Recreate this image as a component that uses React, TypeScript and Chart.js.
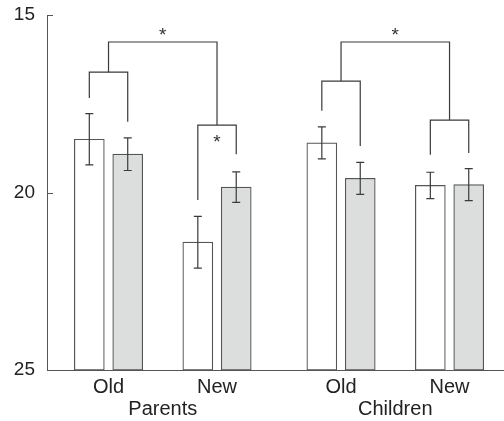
import React, { useEffect, useRef } from 'react';
import { Chart, registerables } from 'chart.js';

Chart.register(...registerables);

// ---- data ----
const conditionLabels = ['Old', 'New', 'Old', 'New'];
const groupLabels = ['Parents', 'Children'];
const yTickValues = [15, 20, 25];
const whiteValues = [18.5, 21.4, 18.6, 19.8];
const whiteErrors = [0.72, 0.73, 0.45, 0.37];
const grayValues = [18.92, 19.85, 19.6, 19.78];
const grayErrors = [0.46, 0.43, 0.45, 0.45];
// within-condition brackets (white vs gray)
const pairWhiteLegEnd = [17.34, 20.21, 17.7, 18.94];
const pairGrayLegEnd = [18.01, 18.92, 18.69, 18.89];
const pairLevel = [16.61, 18.1, 16.86, 17.96];
const pairStar = [false, true, false, false];
// between-condition brackets (Old vs New within each group)
const groupLevel = [15.76, 15.76];
const groupStar = [true, true];

// ---- layout helpers ----
const GROUP_GAP = 0.143;
const BAR_OFFSET = 0.177;
const slot = (i: number) => 1 + i + (i >= 2 ? GROUP_GAP : 0);
const xPositions = conditionLabels.map((_, i) => slot(i));
const groupCenters = groupLabels.map((_, g) => (slot(2 * g) + slot(2 * g + 1)) / 2);
const X_MIN = 0.433;
const X_MAX = 4.645;
const BASE = 25;

const LINE = '#3a3a3a';
const AXIS = '#555555';
const FONT = '"Liberation Sans", Arial, Helvetica, sans-serif';

const errorBarPlugin = {
  id: 'errorBars',
  afterDatasetsDraw(chart: any) {
    const ctx = chart.ctx;
    const y = chart.scales.y;
    const sets: [number[], number[]][] = [
      [whiteValues, whiteErrors],
      [grayValues, grayErrors],
    ];
    ctx.save();
    ctx.strokeStyle = LINE;
    ctx.lineWidth = 1.2;
    sets.forEach(([vals, errs], di) => {
      const meta = chart.getDatasetMeta(di);
      meta.data.forEach((bar: any, i: number) => {
        const x = bar.x;
        const yTop = y.getPixelForValue(vals[i] - errs[i]);
        const yBot = y.getPixelForValue(vals[i] + errs[i]);
        ctx.beginPath();
        ctx.moveTo(x, yTop);
        ctx.lineTo(x, yBot);
        ctx.moveTo(x - 4, yTop);
        ctx.lineTo(x + 4, yTop);
        ctx.moveTo(x - 4, yBot);
        ctx.lineTo(x + 4, yBot);
        ctx.stroke();
      });
    });
    ctx.restore();
  },
};

const bracketPlugin = {
  id: 'brackets',
  afterDatasetsDraw(chart: any) {
    const ctx = chart.ctx;
    const y = chart.scales.y;
    const px = (v: number) => y.getPixelForValue(v);
    const white = chart.getDatasetMeta(0).data;
    const gray = chart.getDatasetMeta(1).data;
    ctx.save();
    ctx.strokeStyle = LINE;
    ctx.fillStyle = '#333';
    ctx.lineWidth = 1.2;
    ctx.font = `19px ${FONT}`;
    ctx.textAlign = 'center';
    ctx.textBaseline = 'alphabetic';
    const centers: number[] = [];
    for (let i = 0; i < conditionLabels.length; i++) {
      const xw = white[i].x;
      const xg = gray[i].x;
      const ly = px(pairLevel[i]);
      ctx.beginPath();
      ctx.moveTo(xw, px(pairWhiteLegEnd[i]));
      ctx.lineTo(xw, ly);
      ctx.lineTo(xg, ly);
      ctx.lineTo(xg, px(pairGrayLegEnd[i]));
      ctx.stroke();
      const c = (xw + xg) / 2;
      centers.push(c);
      if (pairStar[i]) ctx.fillText('*', c, ly + 23);
    }
    for (let g = 0; g < groupLabels.length; g++) {
      const a = 2 * g;
      const b = 2 * g + 1;
      const gy = px(groupLevel[g]);
      ctx.beginPath();
      ctx.moveTo(centers[a], px(pairLevel[a]));
      ctx.lineTo(centers[a], gy);
      ctx.lineTo(centers[b], gy);
      ctx.lineTo(centers[b], px(pairLevel[b]));
      ctx.stroke();
      if (groupStar[g]) ctx.fillText('*', (centers[a] + centers[b]) / 2, gy - 1);
    }
    ctx.restore();
  },
};

const innerTickPlugin = {
  id: 'innerTicks',
  afterDraw(chart: any) {
    const ctx = chart.ctx;
    const y = chart.scales.y;
    const left = chart.chartArea.left;
    ctx.save();
    ctx.strokeStyle = AXIS;
    ctx.lineWidth = 1;
    yTickValues.forEach((v) => {
      const p = Math.round(y.getPixelForValue(v)) + 0.5;
      ctx.beginPath();
      ctx.moveTo(left, p);
      ctx.lineTo(left + 6, p);
      ctx.stroke();
    });
    ctx.restore();
  },
};

export default function App() {
  const ref = useRef<HTMLCanvasElement>(null);

  useEffect(() => {
    if (!ref.current) return;
    const chart = new Chart(ref.current, {
      type: 'bar',
      data: {
        datasets: [
          {
            label: 'white',
            data: whiteValues.map((v, i) => ({ x: xPositions[i] - BAR_OFFSET, y: [BASE, v] })) as any,
            backgroundColor: '#ffffff',
            borderColor: AXIS,
            borderWidth: 1.2,
            borderSkipped: false,
            barThickness: 30,
            grouped: false,
          },
          {
            label: 'gray',
            data: grayValues.map((v, i) => ({ x: xPositions[i] + BAR_OFFSET, y: [BASE, v] })) as any,
            backgroundColor: '#dcdedd',
            borderColor: AXIS,
            borderWidth: 1.2,
            borderSkipped: false,
            barThickness: 30,
            grouped: false,
          },
        ],
      },
      options: {
        animation: false,
        responsive: false,
        maintainAspectRatio: false,
        layout: { padding: { top: 15, left: 0, right: 0, bottom: 0 } },
        plugins: {
          legend: { display: false },
          tooltip: { enabled: false },
        },
        scales: {
          x: {
            type: 'linear',
            axis: 'x',
            position: 'bottom',
            min: X_MIN,
            max: X_MAX,
            offset: false,
            weight: 0,
            grid: { display: false, drawTicks: false },
            border: { display: true, color: AXIS, width: 1 },
            afterBuildTicks: (s: any) => {
              s.ticks = xPositions.map((v) => ({ value: v }));
            },
            afterFit: (s: any) => {
              s.height = 28;
              s.paddingLeft = 0;
              s.paddingRight = 0;
            },
            ticks: {
              autoSkip: false,
              maxRotation: 0,
              padding: 5,
              color: '#222',
              font: { family: FONT, size: 20 },
              callback: (_v: any, i: number) => conditionLabels[i],
            },
          },
          x2: {
            type: 'linear',
            axis: 'x',
            position: 'bottom',
            min: X_MIN,
            max: X_MAX,
            offset: false,
            weight: 1,
            grid: { display: false, drawTicks: false },
            border: { display: false },
            afterBuildTicks: (s: any) => {
              s.ticks = groupCenters.map((v) => ({ value: v }));
            },
            afterFit: (s: any) => {
              s.height = 23;
              s.paddingLeft = 0;
              s.paddingRight = 0;
            },
            ticks: {
              autoSkip: false,
              maxRotation: 0,
              padding: -1,
              color: '#222',
              font: { family: FONT, size: 20 },
              callback: (_v: any, i: number) => groupLabels[i],
            },
          },
          y: {
            type: 'linear',
            min: 15,
            max: 25,
            reverse: true,
            grid: { display: false, drawTicks: false },
            border: { display: true, color: AXIS, width: 1 },
            afterBuildTicks: (s: any) => {
              s.ticks = yTickValues.map((v) => ({ value: v }));
            },
            afterFit: (s: any) => {
              s.width = 47;
              s.paddingTop = 0;
              s.paddingBottom = 0;
            },
            ticks: {
              padding: 12,
              color: '#222',
              font: { family: FONT, size: 19 },
            },
          },
        },
      } as any,
      plugins: [errorBarPlugin, bracketPlugin, innerTickPlugin],
    });
    return () => chart.destroy();
  }, []);

  return (
    <div style={{ position: 'fixed', left: 0, top: 0, width: 504, height: 421, background: '#fff' }}>
      <canvas ref={ref} width={504} height={421} style={{ width: 504, height: 421, display: 'block' }} />
    </div>
  );
}
